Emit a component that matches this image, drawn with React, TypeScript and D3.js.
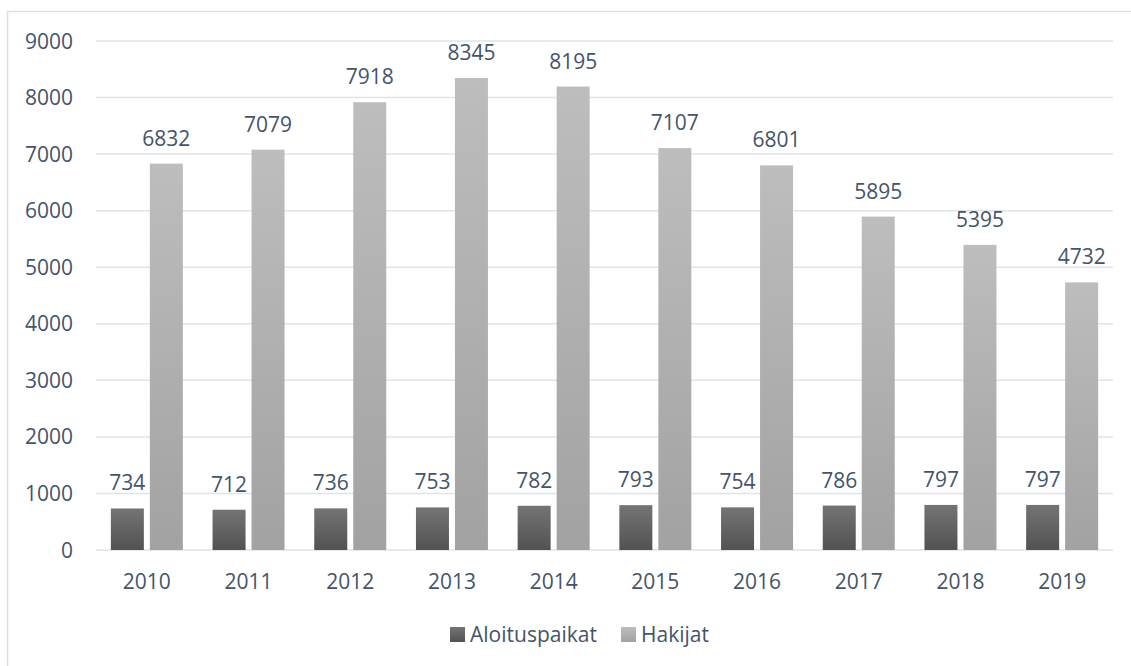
import { useEffect, useRef } from 'react';
import * as d3 from 'd3';

const years = ['2010', '2011', '2012', '2013', '2014', '2015', '2016', '2017', '2018', '2019'];
const aloituspaikat = [734, 712, 736, 753, 782, 793, 754, 786, 797, 797];
const hakijat = [6832, 7079, 7918, 8345, 8195, 7107, 6801, 5895, 5395, 4732];
const yTicks = [0, 1000, 2000, 3000, 4000, 5000, 6000, 7000, 8000, 9000];
const seriesNames = ['Aloituspaikat', 'Hakijat'];

const App = () => {
  const ref = useRef<SVGSVGElement>(null);

  useEffect(() => {
    const width = 1131;
    const height = 666;
    const textColor = '#44546a';
    const font = '"Open Sans", "Liberation Sans", sans-serif';
    const fontSize = 21;

    const svg = d3.select(ref.current);
    svg.selectAll('*').remove();

    // gradients for the two series
    const defs = svg.append('defs');
    const grads = [
      { id: 'gDark', top: '#747474', bottom: '#525252' },
      { id: 'gLight', top: '#bdbdbd', bottom: '#a2a2a2' },
    ];
    grads.forEach((g) => {
      const lg = defs.append('linearGradient')
        .attr('id', g.id)
        .attr('x1', 0).attr('y1', 0).attr('x2', 0).attr('y2', 1);
      lg.append('stop').attr('offset', '0%').attr('stop-color', g.top);
      lg.append('stop').attr('offset', '100%').attr('stop-color', g.bottom);
    });

    // chart frame (only top & left visible)
    svg.append('rect')
      .attr('x', 7.5).attr('y', 11.5)
      .attr('width', 1140).attr('height', 680)
      .attr('fill', 'white')
      .attr('stroke', '#d9dee7')
      .attr('stroke-width', 1.5);

    const x = d3.scaleBand().domain(years).range([96, 1113]);
    const y = d3.scaleLinear().domain([0, 9000]).range([550, 41]);

    // gridlines
    svg.append('g')
      .selectAll('line')
      .data(yTicks)
      .join('line')
      .attr('x1', 96).attr('x2', 1113)
      .attr('y1', (d) => y(d)).attr('y2', (d) => y(d))
      .attr('stroke', '#dfe3ea')
      .attr('stroke-width', 1.5);

    // y tick labels
    svg.append('g')
      .selectAll('text')
      .data(yTicks)
      .join('text')
      .attr('x', 73)
      .attr('y', (d) => y(d))
      .attr('dy', '0.36em')
      .attr('text-anchor', 'end')
      .attr('font-family', font)
      .attr('font-size', fontSize)
      .attr('fill', textColor)
      .text((d) => d);

    // x labels
    svg.append('g')
      .selectAll('text')
      .data(years)
      .join('text')
      .attr('x', (d) => x(d)! + x.bandwidth() / 2)
      .attr('y', 589)
      .attr('text-anchor', 'middle')
      .attr('font-family', font)
      .attr('font-size', fontSize)
      .attr('fill', textColor)
      .text((d) => d);

    const barW = 33;
    const gap = 6;
    const series = [
      { values: aloituspaikat, fill: 'url(#gDark)', offset: -(gap / 2 + barW) },
      { values: hakijat, fill: 'url(#gLight)', offset: gap / 2 },
    ];

    series.forEach((s) => {
      const g = svg.append('g');
      g.selectAll('rect')
        .data(years)
        .join('rect')
        .attr('x', (d) => x(d)! + x.bandwidth() / 2 + s.offset)
        .attr('y', (_, i) => y(s.values[i]))
        .attr('width', barW)
        .attr('height', (_, i) => y(0) - y(s.values[i]))
        .attr('fill', s.fill);
      g.selectAll('text')
        .data(years)
        .join('text')
        .attr('x', (d) => x(d)! + x.bandwidth() / 2 + s.offset + barW / 2)
        .attr('y', (_, i) => y(s.values[i]) - 18)
        .attr('text-anchor', 'middle')
        .attr('font-family', font)
        .attr('font-size', fontSize)
        .attr('fill', textColor)
        .text((_, i) => s.values[i]);
    });

    // legend
    const legendItems = [
      { name: seriesNames[0], fill: 'url(#gDark)', x: 450 },
      { name: seriesNames[1], fill: 'url(#gLight)', x: 621 },
    ];
    const lg = svg.append('g');
    legendItems.forEach((it) => {
      lg.append('rect')
        .attr('x', it.x).attr('y', 627)
        .attr('width', 15).attr('height', 15)
        .attr('fill', it.fill);
      lg.append('text')
        .attr('x', it.x + 20)
        .attr('y', 642)
        .attr('font-family', font)
        .attr('font-size', fontSize)
        .attr('fill', textColor)
        .text(it.name);
    });

    svg.attr('width', width).attr('height', height);
  }, []);

  return (
    <div style={{ position: 'absolute', left: 0, top: 0 }}>
      <svg ref={ref} width={1131} height={666} style={{ display: 'block' }} />
    </div>
  );
};

export default App;
